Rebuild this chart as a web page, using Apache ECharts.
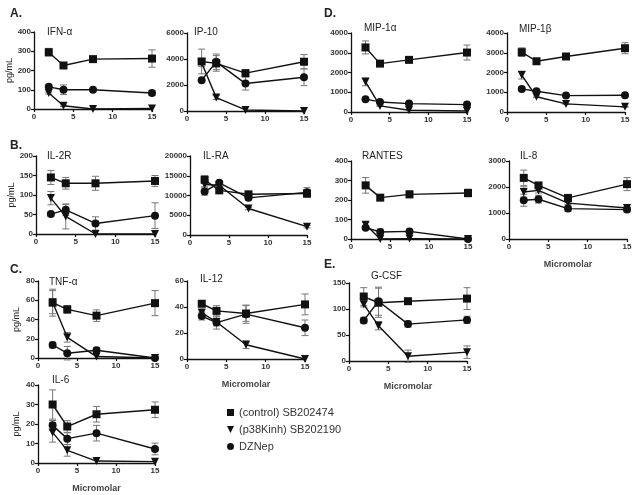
<!DOCTYPE html>
<html>
<head>
<meta charset="utf-8">
<script src="https://cdn.jsdelivr.net/npm/echarts@6/dist/echarts.min.js"></script>
<style>
  html, body { margin: 0; padding: 0; background: #fff; }
  #chart { width: 639px; height: 495px; }
</style>
</head>
<body>
<div id="chart"></div>
<script>
// concentrations (micromolar)
const doses = [1.875, 3.75, 7.5, 15];
const seriesNames = ["(control) SB202474", "(p38Kinh) SB202190", "DZNep"];

// each panel: [control, p38Kinh, DZNep] means and SEM
const ifnA = [[295, 226, 259, 262], [83, 17, 0, 3], [115, 100, 100, 83]];
const ifnAErr = [[20, 6, 10, 45], [5, 4, 0, 0], [5, 25, 5, 12]];
const ip10 = [[3810, 3660, 2910, 3790], [3710, 1030, 80, 0], [2370, 3780, 2110, 2600]];
const ip10Err = [[950, 600, 250, 550], [300, 150, 0, 0], [0, 600, 500, 650]];
const il2r = [[145, 130, 130, 136], [92, 45, 0, 0], [51, 62, 27, 47]];
const il2rErr = [[18, 15, 18, 14], [17, 32, 0, 0], [5, 14, 17, 33]];
const ilra = [[14000, 11300, 10300, 10500], [12800, 12600, 6700, 2100], [11000, 13200, 9400, 10800]];
const ilraErr = [[1000, 400, 600, 1000], [600, 500, 300, 300], [900, 500, 500, 1200]];
const tnfA = [[57.5, 50.5, 44, 57], [58, 21.5, 1.5, 0], [13.5, 5, 8, 0]];
const tnfAErr = [[14, 4, 6, 13], [12, 5, 0, 0], [3, 7, 3, 0]];
const il12 = [[42.5, 37, 35, 42], [35.5, 28.5, 11, 0], [33, 28, 34.5, 24]];
const il12Err = [[2, 4, 6, 8], [3, 3, 3, 0], [3, 5, 7, 6]];
const il6 = [[30, 18.7, 25, 27.3], [15.7, 6.5, 1, 0.7], [19.3, 12.5, 15.3, 7.2]];
const il6Err = [[7.5, 3, 4, 4], [5, 3, 0, 0], [2.5, 3, 4, 3]];
const mip1a = [[3270, 2450, 2640, 3010], [1530, 310, 90, 50], [650, 510, 425, 375]];
const mip1aErr = [[330, 60, 60, 380], [200, 30, 0, 0], [30, 30, 20, 20]];
const mip1b = [[3030, 2570, 2810, 3230], [1870, 770, 410, 260], [1170, 1050, 830, 850]];
const mip1bErr = [[220, 60, 60, 280], [200, 40, 30, 20], [100, 40, 30, 30]];
const rantes = [[275, 212, 229, 236], [73, 0, 2, 0], [58, 36, 39, 0]];
const rantesErr = [[40, 10, 17, 20], [12, 0, 0, 0], [8, 15, 5, 0]];
const il8 = [[2350, 2060, 1580, 2110], [1810, 1870, 1380, 1190], [1490, 1530, 1170, 1130]];
const il8Err = [[300, 80, 60, 250], [200, 100, 50, 60], [230, 150, 100, 100]];
const gcsf = [[124, 112, 115, 120], [109, 68, 9, 17], [78, 115, 71, 79]];
const gcsfErr = [[17, 28, 4, 21], [5, 8, 12, 12], [6, 27, 6, 7]];

// panel layout: plot box in pixels (x0, x1, yTop, yBottom), y range, title spot
const panels = [
  { name: "IFN-α", vals: ifnA, errs: ifnAErr, box: [34, 152, 32, 109], max: 400, step: 100, title: [47, 27], unit: true },
  { name: "IP-10", vals: ip10, errs: ip10Err, box: [187, 304, 33, 111], max: 6000, step: 2000, title: [194, 27] },
  { name: "IL-2R", vals: il2r, errs: il2rErr, box: [36, 155, 156, 234], max: 200, step: 50, title: [47, 151], unit: true },
  { name: "IL-RA", vals: ilra, errs: ilraErr, box: [190, 307, 156, 235], max: 20000, step: 5000, title: [203, 151] },
  { name: "TNF-α", vals: tnfA, errs: tnfAErr, box: [38, 155, 281, 358], max: 80, step: 20, title: [49, 277], unit: true },
  { name: "IL-12", vals: il12, errs: il12Err, box: [187, 305, 281, 359], max: 60, step: 20, title: [200, 274], xname: true },
  { name: "IL-6", vals: il6, errs: il6Err, box: [38, 155, 385, 463], max: 40, step: 10, title: [52, 375], unit: true, xname: true },
  { name: "MIP-1α", vals: mip1a, errs: mip1aErr, box: [351, 467, 33, 112], max: 4000, step: 1000, title: [364, 23] },
  { name: "MIP-1β", vals: mip1b, errs: mip1bErr, box: [507, 625, 33, 112], max: 4000, step: 1000, title: [519, 24] },
  { name: "RANTES", vals: rantes, errs: rantesErr, box: [351, 468, 161, 239], max: 400, step: 100, title: [362, 151] },
  { name: "IL-8", vals: il8, errs: il8Err, box: [509, 627, 161, 239], max: 3000, step: 1000, title: [520, 151], xname: true },
  { name: "G-CSF", vals: gcsf, errs: gcsfErr, box: [349, 467, 283, 361], max: 150, step: 50, title: [371, 271], xname: true },
];

const letters = [["A.", 10, 8], ["B.", 10, 140], ["C.", 10, 264], ["D.", 324, 8], ["E.", 324, 259]];

const W = 639, H = 495;
const symbols = ["rect", "path://M0,0 L10,0 L5,10 Z", "circle"];
const symbolSizes = [8, 8, 8];
const axisColor = "#111";
const labelStyle = {
  fontFamily: "Liberation Sans, Arial", fontSize: 8, fontWeight: "bold", color: "#333",
  formatter: (v) => String(v),
};

const grids = [], xAxes = [], yAxes = [], series = [], titles = [];

function errorBars(params, api) {
  const x = api.value(0), y = api.value(1), e = api.value(2);
  if (!e) return null;
  const hi = api.coord([x, y + e]);
  const lo = api.coord([x, y - e]);
  const w = 3.5;
  const st = { stroke: "#777", lineWidth: 1 };
  return {
    type: "group",
    children: [
      { type: "line", shape: { x1: hi[0], y1: hi[1], x2: lo[0], y2: lo[1] }, style: st },
      { type: "line", shape: { x1: hi[0] - w, y1: hi[1], x2: hi[0] + w, y2: hi[1] }, style: st },
      { type: "line", shape: { x1: lo[0] - w, y1: lo[1], x2: lo[0] + w, y2: lo[1] }, style: st },
    ],
  };
}

panels.forEach((p, i) => {
  const [x0, x1, yt, yb] = p.box;
  grids.push({ left: x0, right: W - x1, top: yt, bottom: H - yb, containLabel: false });
  xAxes.push({
    gridIndex: i, type: "value", min: 0, max: 15, interval: 5,
    axisLine: { lineStyle: { color: axisColor, width: 1.3 } },
    axisTick: { length: 3, lineStyle: { color: axisColor, width: 1.2 } },
    axisLabel: Object.assign({ margin: 4 }, labelStyle),
    splitLine: { show: false },
    name: p.xname ? "Micromolar" : "",
    nameLocation: "middle", nameGap: 21,
    nameTextStyle: { fontFamily: "Liberation Sans, Arial", fontSize: 9, fontWeight: "bold", color: "#444" },
  });
  yAxes.push({
    gridIndex: i, type: "value", min: 0, max: p.max, interval: p.step,
    axisLine: { show: true, lineStyle: { color: axisColor, width: 1.3 } },
    axisTick: { show: true, length: 3, lineStyle: { color: axisColor, width: 1.2 } },
    axisLabel: Object.assign({ margin: 3 }, labelStyle),
    splitLine: { show: false },
    name: p.unit ? "pg/mL" : "",
    nameLocation: "middle", nameGap: 17, nameRotate: 90,
    nameTextStyle: { fontFamily: "Liberation Sans, Arial", fontSize: 9, color: "#222" },
  });
  titles.push({
    text: p.name, left: p.title[0], top: p.title[1], padding: 0,
    textStyle: { fontFamily: "Liberation Sans, Arial", fontSize: 10, fontWeight: "normal", color: "#222" },
  });
  p.vals.forEach((v, k) => {
    series.push({
      type: "custom", xAxisIndex: i, yAxisIndex: i, z: 1, silent: true,
      renderItem: errorBars,
      data: doses.map((d, j) => [d, v[j], p.errs[k][j]]),
    });
    series.push({
      name: seriesNames[k], type: "line", xAxisIndex: i, yAxisIndex: i, z: 3,
      data: doses.map((d, j) => [d, v[j]]),
      symbol: symbols[k], symbolSize: symbolSizes[k], symbolKeepAspect: true,
      itemStyle: { color: "#111" },
      lineStyle: { color: "#111", width: 1.4 },
      animation: false,
    });
  });
});

letters.forEach(([t, x, y]) => {
  titles.push({
    text: t, left: x, top: y, padding: 0,
    textStyle: { fontFamily: "Liberation Sans, Arial", fontSize: 12, fontWeight: "bold", color: "#222" },
  });
});

const chart = echarts.init(document.getElementById("chart"));
chart.setOption({
  animation: false,
  backgroundColor: "#fff",
  title: titles,
  grid: grids,
  xAxis: xAxes,
  yAxis: yAxes,
  legend: {
    orient: "vertical", left: 222, top: 402, itemGap: 6,
    itemWidth: 7, itemHeight: 7,
    data: seriesNames.map((n, k) => ({ name: n, icon: symbols[k] })),
    textStyle: { fontFamily: "Liberation Sans, Arial", fontSize: 11, color: "#333" },
  },
  series: series,
});
</script>
</body>
</html>
